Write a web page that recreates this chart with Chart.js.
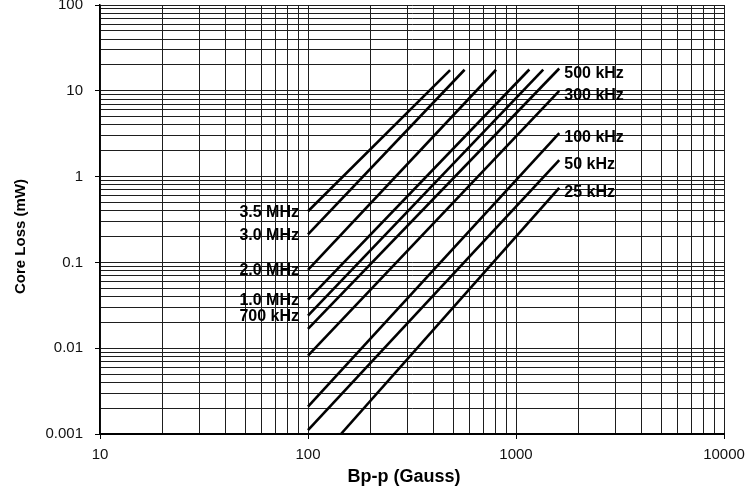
<!DOCTYPE html>
<html>
<head>
<meta charset="utf-8">
<script src="https://cdn.jsdelivr.net/npm/chart.js@4/dist/chart.umd.min.js"></script>
<style>
  html, body { margin: 0; padding: 0; background: #fff; }
  #wrap { width: 746px; height: 491px; }
</style>
</head>
<body>
<div id="wrap"><canvas id="c" width="746" height="491"></canvas></div>
<script>
// ---- data ----
const seriesLabels = ['3.5 MHz', '3.0 MHz', '2.0 MHz', '1.0 MHz', '700 kHz', '500 kHz', '300 kHz', '100 kHz', '50 kHz', '25 kHz'];
const startGauss   = [100, 100, 100, 100, 100, 100, 100, 100, 100, 144];
const startLossMw  = [0.395, 0.212, 0.082, 0.0368, 0.024, 0.0168, 0.0082, 0.00208, 0.00111, 0.001];
const endGauss     = [482, 566, 802, 1159, 1352, 1614, 1614, 1614, 1614, 1614];
const endLossMw    = [17.4, 17.6, 17.6, 17.7, 17.7, 18.2, 10, 3.22, 1.56, 0.74];
const labelAtStart = [true, true, true, true, true, false, false, false, false, false];

const xTickValues = [10, 100, 1000, 10000];
const xTickLabels = ['10', '100', '1000', '10000'];
const yTickValues = [0.001, 0.01, 0.1, 1, 10, 100];
const yTickLabels = ['0.001', '0.01', '0.1', '1', '10', '100'];

const xTitle = 'Bp-p (Gauss)';
const yTitle = 'Core Loss (mW)';

// ---- chart ----
const FONT = '"Liberation Sans", Arial, Helvetica, sans-serif';

function decadeTicks(majors) {
  const t = [];
  for (let i = 0; i < majors.length; i++) {
    t.push({ value: majors[i], major: true });
    if (i < majors.length - 1) {
      for (let m = 2; m <= 9; m++) {
        t.push({ value: parseFloat((majors[i] * m).toPrecision(6)), major: false });
      }
    }
  }
  return t;
}

function labelFor(values, labels) {
  return function (value) {
    for (let i = 0; i < values.length; i++) {
      if (Math.abs(value - values[i]) < values[i] * 1e-6) return labels[i];
    }
    return '';
  };
}

function noAutoPad(s) {
  s.paddingTop = 0; s.paddingBottom = 0; s.paddingLeft = 0; s.paddingRight = 0;
}

const datasets = seriesLabels.map((name, i) => ({
  label: name,
  data: [{ x: startGauss[i], y: startLossMw[i] }, { x: endGauss[i], y: endLossMw[i] }],
  showLine: true,
  borderColor: '#000',
  borderWidth: 2.6,
  pointRadius: 0,
  fill: false,
  tension: 0
}));

const gridStyle = {
  color: '#1e1e1e',
  lineWidth: 1,
  drawTicks: true,
  tickLength: 5,
  tickColor: (ctx) => (ctx.tick && ctx.tick.major ? '#000' : 'rgba(0,0,0,0)')
};

const labelPlugin = {
  id: 'seriesLabels',
  afterDatasetsDraw(chart) {
    const ctx = chart.ctx;
    ctx.save();
    ctx.fillStyle = '#000';
    ctx.font = 'bold 16px ' + FONT;
    ctx.textBaseline = 'middle';
    chart.data.datasets.forEach((ds, i) => {
      const meta = chart.getDatasetMeta(i);
      if (labelAtStart[i]) {
        const p = meta.data[0];
        ctx.textAlign = 'right';
        ctx.fillText(ds.label, p.x - 9, p.y + 1);
      } else {
        const p = meta.data[meta.data.length - 1];
        ctx.textAlign = 'left';
        ctx.fillText(ds.label, p.x + 5, p.y + 5);
      }
    });
    ctx.restore();
  }
};

const titlePlugin = {
  id: 'axisTitles',
  afterDraw(chart) {
    const ctx = chart.ctx;
    const a = chart.chartArea;
    ctx.save();
    ctx.fillStyle = '#000';
    ctx.textAlign = 'center';
    ctx.textBaseline = 'middle';
    ctx.font = 'bold 18px ' + FONT;
    ctx.fillText(xTitle, (a.left + a.right) / 2 - 8, 477);
    ctx.translate(21, (a.top + a.bottom) / 2 + 17);
    ctx.rotate(-Math.PI / 2);
    ctx.font = 'bold 15px ' + FONT;
    ctx.fillText(yTitle, 0, 0);
    ctx.restore();
  }
};

new Chart(document.getElementById('c'), {
  type: 'scatter',
  data: { datasets },
  options: {
    responsive: false,
    animation: false,
    events: [],
    layout: { padding: { top: 5, right: 22, left: 0, bottom: 0 }, autoPadding: false },
    plugins: { legend: { display: false }, tooltip: { enabled: false } },
    scales: {
      x: {
        type: 'logarithmic',
        min: 10,
        max: 10000,
        afterBuildTicks: (s) => { s.ticks = decadeTicks(xTickValues); },
        afterFit: (s) => { s.height = 57; noAutoPad(s); },
        grid: gridStyle,
        border: { color: '#000', width: 2 },
        ticks: {
          autoSkip: false,
          maxRotation: 0,
          padding: 7,
          color: '#111',
          font: { family: FONT, size: 15 },
          callback: labelFor(xTickValues, xTickLabels)
        }
      },
      y: {
        type: 'logarithmic',
        min: 0.001,
        max: 100,
        afterBuildTicks: (s) => { s.ticks = decadeTicks(yTickValues); },
        afterFit: (s) => { s.width = 100; noAutoPad(s); },
        grid: gridStyle,
        border: { color: '#000', width: 1.5 },
        ticks: {
          autoSkip: false,
          padding: 12,
          color: '#111',
          font: { family: FONT, size: 15 },
          callback: labelFor(yTickValues, yTickLabels)
        }
      }
    }
  },
  plugins: [labelPlugin, titlePlugin]
});
</script>
</body>
</html>
